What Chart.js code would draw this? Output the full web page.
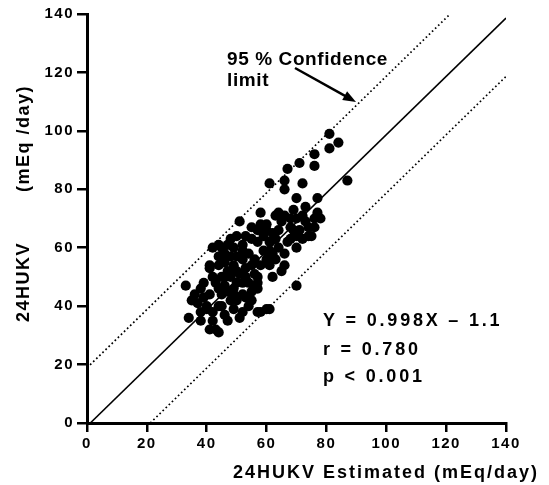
<!DOCTYPE html>
<html>
<head>
<meta charset="utf-8">
<script src="https://cdn.jsdelivr.net/npm/chart.js@4.4.0/dist/chart.umd.min.js"></script>
<style>
  body { margin: 0; background: #fff; }
  canvas { display: block; }
</style>
</head>
<body>
<canvas id="grafico" width="549" height="485"></canvas>
<script>
const estimado = [
  81, 84, 81, 76, 71, 76, 67, 66, 61, 72, 66, 87, 70, 77,
  58, 63, 66, 69, 73, 77, 70, 76, 58, 68, 60, 69, 76, 74, 57, 61, 72, 70,
  56, 60, 61, 61, 65, 66, 57, 57, 70,
  50, 53, 44, 47, 52, 59, 41, 46, 52, 53, 51, 45, 56, 33, 38, 46, 49, 56,
  41, 45, 53, 35, 40, 44, 48, 55, 60, 57, 34, 38, 42, 46, 52, 38, 41, 47,
  43, 61, 51, 55, 48, 49, 52, 42, 45, 41, 58, 62, 62, 50, 52, 54, 49, 58,
  40, 42, 51, 57, 44,
  47, 49, 48, 50, 44, 46, 43, 47, 50, 44, 39, 37, 36, 54, 55, 63, 64, 65,
  67, 66, 64, 63, 68, 71, 73, 72, 75, 78, 59, 57, 55, 53, 39, 42, 48,
  46, 50, 52, 44, 54, 60, 62, 68, 70, 74, 64, 55, 45, 49
];
const medido = [
  99, 96, 94, 92, 89, 88, 87, 83, 82, 82, 80, 83, 77, 77,
  72, 71, 71, 73, 74, 72, 70, 70, 68, 67, 66, 66, 67, 64, 62, 62, 63, 60,
  56, 56, 59, 54, 52, 54, 50, 48, 47,
  64, 64, 61, 61, 61, 64, 53, 55, 56, 53, 51, 50, 51, 47, 46, 47, 46, 46,
  44, 44, 43, 42, 40, 40, 42, 42, 39, 38, 36, 38, 38, 37, 38, 35, 32, 35,
  32, 39, 69, 67, 63, 60, 59, 60, 60, 54, 54, 58, 50, 48, 44, 40, 39, 38,
  39, 35, 36, 46, 31,
  52, 54, 57, 57, 57, 58, 48, 45, 42, 46, 43, 41, 44, 48, 54, 63, 66, 69,
  62, 58, 60, 56, 63, 66, 69, 71, 64, 70, 59, 66, 63, 50, 48, 50, 50,
  50, 52, 48, 54, 58, 68, 65, 70, 64, 67, 72, 45, 40, 44
];
const ticksEixo = [0, 20, 40, 60, 80, 100, 120, 140];

// Regressão e faixa de confiança
const inclinacao = 0.998;
const intercepto = -1.1;
const faixa = 20;
const eixoMax = 140;

const pontos = estimado.map((x, i) => ({ x: x, y: medido[i] }));

function retaNoQuadro(b) {
  // segmento da reta y = a*x + b recortado no quadro 0..140
  let x0 = 0, y0 = b;
  if (y0 < 0) { x0 = -b / inclinacao; y0 = 0; }
  let x1 = eixoMax, y1 = inclinacao * eixoMax + b;
  if (y1 > eixoMax) { x1 = (eixoMax - b) / inclinacao; y1 = eixoMax; }
  return [{ x: x0, y: y0 }, { x: x1, y: y1 }];
}

const fonte = '"Liberation Sans", Arial, sans-serif';

// espaçamento das letras dos rótulos dos eixos
const espacamento = {
  id: "espacamento",
  beforeDraw(chart) { chart.ctx.letterSpacing = "1.5px"; },
  afterDatasetsDraw(chart) { chart.ctx.letterSpacing = "0px"; }
};

// Textos, seta e títulos dos eixos
const anotacoes = {
  id: "anotacoes",
  afterDraw(chart) {
    const ctx = chart.ctx;
    ctx.save();
    ctx.fillStyle = "#000";
    ctx.strokeStyle = "#000";
    ctx.textBaseline = "alphabetic";

    ctx.font = "bold 19px " + fonte;
    ctx.letterSpacing = "0.6px";
    ctx.textAlign = "left";
    ctx.fillText("95 % Confidence", 227, 65);
    ctx.fillText("limit", 227, 86);

    // seta
    const sx = 295, sy = 68, tx = 356, ty = 102;
    const ang = Math.atan2(ty - sy, tx - sx);
    ctx.lineWidth = 2.5;
    ctx.beginPath();
    ctx.moveTo(sx, sy);
    ctx.lineTo(tx - 10 * Math.cos(ang), ty - 10 * Math.sin(ang));
    ctx.stroke();
    ctx.beginPath();
    ctx.moveTo(tx, ty);
    ctx.lineTo(tx - 13 * Math.cos(ang) + 5 * Math.sin(ang), ty - 13 * Math.sin(ang) - 5 * Math.cos(ang));
    ctx.lineTo(tx - 13 * Math.cos(ang) - 5 * Math.sin(ang), ty - 13 * Math.sin(ang) + 5 * Math.cos(ang));
    ctx.closePath();
    ctx.fill();

    ctx.font = "bold 18px " + fonte;
    ctx.letterSpacing = "2.8px";
    ctx.fillText("Y = " + inclinacao.toFixed(3) + "X \u2013 " + Math.abs(intercepto).toFixed(1), 323, 326);
    ctx.fillText("r = 0.780", 323, 355);
    ctx.fillText("p < 0.001", 323, 382);

    // título eixo x
    ctx.letterSpacing = "2px";
    ctx.fillText("24HUKV Estimated (mEq/day)", 233, 478);

    // título eixo y
    ctx.translate(29, 0);
    ctx.rotate(-Math.PI / 2);
    ctx.letterSpacing = "1.5px";
    ctx.textAlign = "left";
    ctx.fillText("24HUKV", -322, 0);
    ctx.fillText("(mEq /day)", -192, 0);
    ctx.restore();
  }
};

Chart.defaults.font.family = fonte;
Chart.defaults.color = "#000";

new Chart(document.getElementById("grafico"), {
  type: "scatter",
  data: {
    datasets: [
      {
        data: pontos,
        backgroundColor: "#000",
        borderWidth: 0,
        pointRadius: 5.1,
        order: 0
      },
      {
        type: "line",
        data: retaNoQuadro(intercepto),
        borderColor: "#000",
        borderWidth: 1.6,
        pointRadius: 0,
        fill: false,
        order: 2
      },
      {
        type: "line",
        data: retaNoQuadro(intercepto + faixa),
        borderColor: "#000",
        borderWidth: 1.7,
        borderDash: [1.7, 2.6],
        pointRadius: 0,
        fill: false,
        order: 2
      },
      {
        type: "line",
        data: retaNoQuadro(intercepto - faixa),
        borderColor: "#000",
        borderWidth: 1.7,
        borderDash: [1.7, 2.6],
        pointRadius: 0,
        fill: false,
        order: 2
      }
    ]
  },
  options: {
    responsive: false,
    animation: false,
    layout: { padding: { left: 0, right: 43, top: 14, bottom: 0 } },
    plugins: {
      legend: { display: false },
      tooltip: { enabled: false }
    },
    scales: {
      x: {
        type: "linear",
        min: 0,
        max: eixoMax,
        afterBuildTicks: s => { s.ticks = ticksEixo.map(v => ({ value: v })); },
        afterFit: s => { s.height = 62; },
        grid: { drawOnChartArea: false, tickLength: 9, color: "#000", lineWidth: 2.5 },
        border: { color: "#000", width: 3 },
        ticks: { padding: 3, font: { size: 15, weight: "bold" }, maxRotation: 0 }
      },
      y: {
        type: "linear",
        min: 0,
        max: eixoMax,
        afterBuildTicks: s => { s.ticks = ticksEixo.map(v => ({ value: v })); },
        afterFit: s => { s.width = 87; },
        grid: { drawOnChartArea: false, tickLength: 10, color: "#000", lineWidth: 2.5 },
        border: { color: "#000", width: 3 },
        ticks: { padding: 3, font: { size: 15, weight: "bold" } }
      }
    }
  },
  plugins: [espacamento, anotacoes]
});
</script>
</body>
</html>
